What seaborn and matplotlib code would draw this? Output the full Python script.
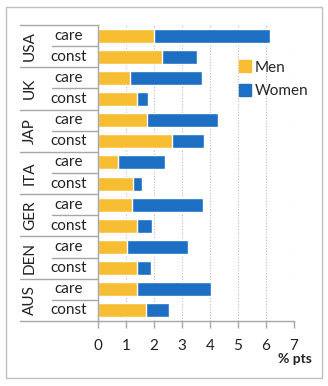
import matplotlib
matplotlib.use("Agg")
import matplotlib.pyplot as plt
import matplotlib.transforms as mtransforms
from matplotlib.patches import Rectangle
from matplotlib.lines import Line2D
import seaborn as sns
import pandas as pd

countries = ["USA", "UK", "JAP", "ITA", "GER", "DEN", "AUS"]
kinds = ["care", "const"]
men = [2.00, 2.29, 1.14, 1.39, 1.75, 2.64, 0.70, 1.25, 1.23, 1.41, 1.02, 1.41, 1.38, 1.73]
women = [4.14, 1.25, 2.57, 0.40, 2.54, 1.15, 1.70, 0.32, 2.52, 0.52, 2.19, 0.50, 2.66, 0.81]
xticks = [0, 1, 2, 3, 4, 5, 6, 7]
xlabel = "% pts"

rows = [f"{c}-{k}" for c in countries for k in kinds]
df = pd.DataFrame({"row": rows, "Men": men, "Women": women})
df["Total"] = df["Men"] + df["Women"]

ORANGE = "#F8BE33"
BLUE = "#1D6FC3"
GRAY = "#A6A6A6"

sns.set_style("white")
plt.rcParams["font.family"] = ["Lato", "DejaVu Sans"]

fig = plt.figure(figsize=(3.28, 3.86), dpi=100)
ax = fig.add_axes([98/328, 1-321/386, 196/328, 296/386])

sns.barplot(data=df, y="row", x="Total", color=BLUE, orient="h", width=0.66,
            ax=ax, saturation=1, order=rows)
sns.barplot(data=df, y="row", x="Men", color=ORANGE, orient="h", width=0.66,
            ax=ax, saturation=1, order=rows)

ax.set_xlim(0, 7)
ax.set_ylim(len(rows)-0.5, -0.5)
ax.set_xticks(xticks)
ax.set_xticklabels([str(t) for t in xticks], fontsize=11)
ax.set_yticks([])
ax.set_xlabel("")
ax.set_ylabel("")
for x in xticks[1:]:
    ax.axvline(x, color="#BDBDBD", lw=0.8, ls=(0, (1, 1.5)), zorder=0)
for s in ["top", "right"]:
    ax.spines[s].set_visible(False)
for s in ["left", "bottom"]:
    ax.spines[s].set_color(GRAY)
    ax.spines[s].set_linewidth(1)
ax.tick_params(axis="x", direction="out", length=5, color=GRAY, width=1, pad=8,
               labelcolor="#222222", bottom=True)

trans = mtransforms.blended_transform_factory(ax.transAxes, ax.transData)
for i, c in enumerate(countries):
    y0 = 2*i
    ax.text(-0.148, y0, kinds[0], transform=trans, ha="center", va="center", fontsize=11, color="#222222")
    ax.text(-0.148, y0+1, kinds[1], transform=trans, ha="center", va="center", fontsize=11, color="#222222")
    ax.text(-0.347, y0+0.5, c, transform=trans, ha="center", va="center", fontsize=11,
            rotation=90, color="#222222")
    ax.add_line(Line2D([-0.235, 0], [y0+0.5, y0+0.5], transform=trans, color=GRAY, lw=1, clip_on=False))
for b in range(len(countries)+1):
    yb = 2*b - 0.5
    ax.add_line(Line2D([-0.398, 0], [yb, yb], transform=trans, color=GRAY, lw=1, clip_on=False))

handles = [Line2D([], [], marker="s", ls="", color=ORANGE, markersize=8, label="Men"),
           Line2D([], [], marker="s", ls="", color=BLUE, markersize=8, label="Women")]
ax.legend(handles=handles, loc="upper left", bbox_to_anchor=(0.69, 0.905), frameon=False,
          fontsize=11, handlelength=0.6, handletextpad=0.3, labelspacing=0.6, borderpad=0)

fig.text(295/328, 1-359/386, xlabel, ha="center", va="center", fontsize=10, fontweight="bold",
         color="#222222")
fig.add_artist(Rectangle((6/328, 1-378/386), 316/328, 371/386, transform=fig.transFigure,
                         fill=False, edgecolor="#BFBFBF", lw=1))

fig.savefig("out.png", dpi=100)
